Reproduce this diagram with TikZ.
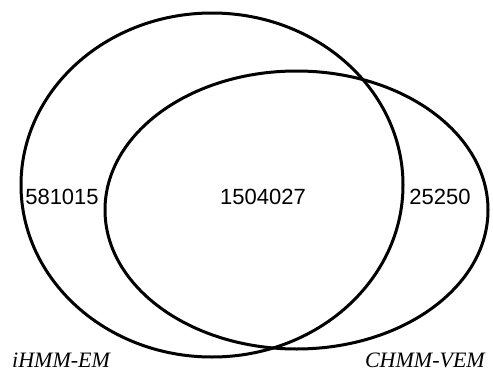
\documentclass[tikz,border=0pt]{standalone}
\usepackage{fontspec}
\setmainfont{Liberation Serif}
\newfontfamily\countfont{Liberation Sans}
\usepackage{tikz}

\tikzset{
  setline/.style={line width=3pt},
  count/.style={font=\countfont\fontsize{22}{26}\selectfont, inner sep=0pt},
  setname/.style={font=\itshape\fontsize{22}{26}\selectfont, inner sep=0pt}
}

\begin{document}
\begin{tikzpicture}[x=1pt,y=-1pt]
                \useasboundingbox (0,0) rectangle (493,383);
                \draw [setline] (212,185) ellipse [x radius=191, y radius=172];
                \draw [setline] (296.5,210) ellipse [x radius=191.5, y radius=139];
                \node [count] (onlyA) at (62,197) {581015};
                \node [count] (both) at (263,197) {1504027};
                \node [count] (onlyB) at (440,197) {25250};
                \node [setname, anchor=base west] (nameA) at (12,367) {iHMM-EM};
                \node [setname, anchor=base east] (nameB) at (485,367) {CHMM-VEM};
            \end{tikzpicture}
\end{document}
